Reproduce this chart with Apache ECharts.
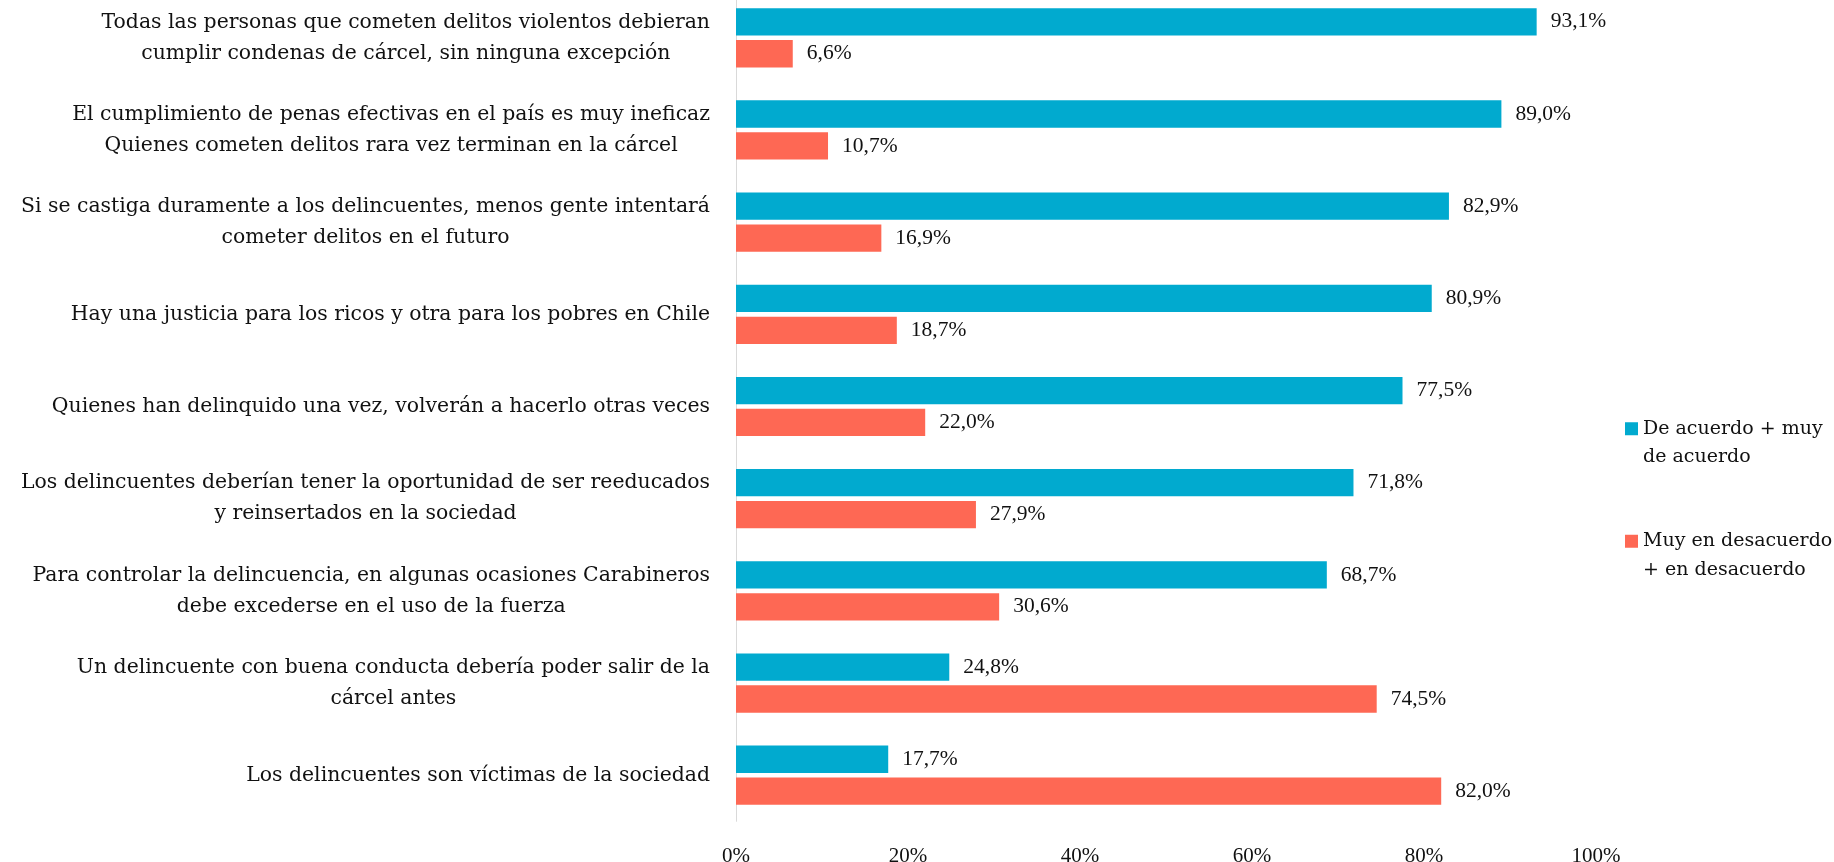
<!DOCTYPE html>
<html>
<head>
<meta charset="utf-8">
<script src="https://cdn.jsdelivr.net/npm/echarts@6/dist/echarts.min.js"></script>
<style>
	html, body { margin: 0; padding: 0; background: #fff; }
	#chart { width: 1834px; height: 862px; }
</style>
</head>
<body>
<div id="chart"></div>
<script>
var categories = [
	'Todas las personas que cometen delitos violentos debieran\ncumplir condenas de cárcel, sin ninguna excepción',
	'El cumplimiento de penas efectivas en el país es muy ineficaz\nQuienes cometen delitos rara vez terminan en la cárcel',
	'Si se castiga duramente a los delincuentes, menos gente intentará\ncometer delitos en el futuro',
	'Hay una justicia para los ricos y otra para los pobres en Chile',
	'Quienes han delinquido una vez, volverán a hacerlo otras veces',
	'Los delincuentes deberían tener la oportunidad de ser reeducados\ny reinsertados en la sociedad',
	'Para controlar la delincuencia, en algunas ocasiones Carabineros\ndebe excederse en el uso de la fuerza',
	'Un delincuente con buena conducta debería poder salir de la\ncárcel antes',
	'Los delincuentes son víctimas de la sociedad'
];
var seriesNames = ['De acuerdo + muy\nde acuerdo', 'Muy en desacuerdo\n+ en desacuerdo'];
var agreeValues = [93.1, 89.0, 82.9, 80.9, 77.5, 71.8, 68.7, 24.8, 17.7];
var disagreeValues = [6.6, 10.7, 16.9, 18.7, 22.0, 27.9, 30.6, 74.5, 82.0];
var axisTicks = [0, 20, 40, 60, 80, 100];

var labelFont = 'DejaVu Serif';
var numberFont = 'Liberation Serif';

function pct(v) {
	return v.toFixed(1).replace('.', ',') + '%';
}

var chart = echarts.init(document.getElementById('chart'));

function barSeries(name, data, color) {
	return {
		name: name,
		type: 'bar',
		data: data,
		barWidth: 27.3,
		barGap: '17%',
		itemStyle: { color: color },
		label: {
			show: true,
			position: 'right',
			distance: 14,
			color: '#111',
			fontFamily: numberFont,
			fontSize: 21.5,
			formatter: function (p) { return pct(p.value); }
		},
		animation: false
	};
}

chart.setOption({
	backgroundColor: '#fff',
	grid: {
		left: 736,
		right: 238,
		top: -8.3,
		bottom: 40.7,
		containLabel: false,
		outerBoundsMode: 'none'
	},
	legend: {
		orient: 'vertical',
		left: 1625,
		top: 386,
		padding: 0,
		itemWidth: 13,
		itemHeight: 13,
		itemGap: 27,
		icon: 'rect',
		data: seriesNames,
		// blank first line so the icon sits beside the first text line
		formatter: function (name) { return '\n' + name; },
		textStyle: {
			fontFamily: labelFont,
			fontSize: 19,
			lineHeight: 28.5,
			color: '#111'
		}
	},
	xAxis: {
		type: 'value',
		min: axisTicks[0],
		max: axisTicks[axisTicks.length - 1],
		interval: axisTicks[1] - axisTicks[0],
		axisLine: { show: false },
		axisTick: { show: false },
		splitLine: { show: false },
		axisLabel: {
			margin: 25,
			color: '#111',
			fontFamily: numberFont,
			fontSize: 21,
			formatter: '{value}%'
		}
	},
	yAxis: {
		type: 'category',
		inverse: true,
		data: categories,
		axisTick: { show: false },
		axisLine: { lineStyle: { color: '#d9d9d9', width: 1 } },
		axisLabel: {
			margin: 26,
			formatter: function (v) {
				return v.split('\n').map(function (s) { return '{c|' + s + '}'; }).join('\n');
			},
			rich: {
				c: {
					align: 'center',
					fontFamily: labelFont,
					fontSize: 20.4,
					lineHeight: 31,
					color: '#111'
				}
			}
		}
	},
	series: [
		barSeries(seriesNames[0], agreeValues, '#01aacf'),
		barSeries(seriesNames[1], disagreeValues, '#fe6854')
	]
});
</script>
</body>
</html>
